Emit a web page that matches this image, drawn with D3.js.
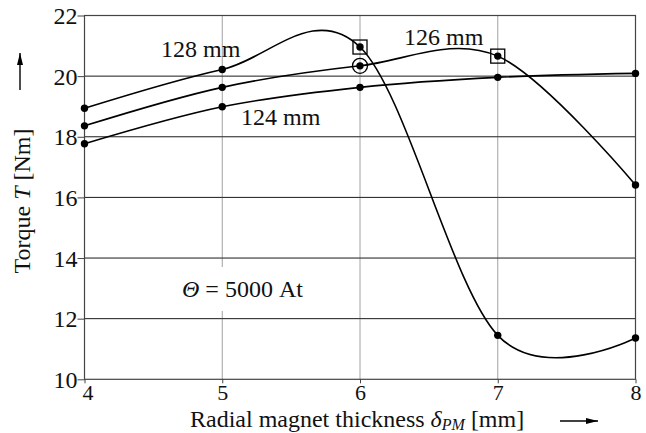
<!DOCTYPE html>
<html>
<head>
<meta charset="utf-8">
<script src="https://cdn.jsdelivr.net/npm/d3@7"></script>
<style>
  body { margin: 0; background: #fff; }
  svg { display: block; }
  svg text { font-family: "Liberation Serif", "Times New Roman", "DejaVu Serif", serif; }
</style>
</head>
<body>
<svg width="646" height="433"></svg>
<script>
// thickness in mm
const thickness = [4, 5, 6, 7, 8]
const torque128 = [18.94, 20.22, 20.96, 11.45, 11.36]
const torque126 = [18.36, 19.63, 20.34, 20.66, 16.41]
const torque124 = [17.77, 18.99, 19.63, 19.96, 20.09]
const yTicks = [10, 12, 14, 16, 18, 20, 22]
const xTicks = [4, 5, 6, 7, 8]

const series = [
  { name: '128 mm', values: torque128 },
  { name: '126 mm', values: torque126 },
  { name: '124 mm', values: torque124 }
]

const svg = d3.select('svg')
const margin = { top: 15.5, right: 10.5, bottom: 53.7, left: 84.5 }
const width = +svg.attr('width') - margin.left - margin.right
const height = +svg.attr('height') - margin.top - margin.bottom
const fs = 24

const x = d3.scaleLinear().domain([4, 8]).range([0, width])
const y = d3.scaleLinear().domain([10, 22]).range([height, 0])

const g = svg.append('g').attr('transform', `translate(${margin.left},${margin.top})`)

// horizontal grid
g.selectAll('.hgrid').data(yTicks.slice(1, -1)).enter().append('line')
  .attr('x1', 0).attr('x2', width)
  .attr('y1', d => y(d)).attr('y2', d => y(d))
  .attr('stroke', '#1a1a1a').attr('stroke-width', 1)

// vertical dotted grid
g.selectAll('.vgrid').data(xTicks.slice(1, -1)).enter().append('line')
  .attr('x1', d => x(d)).attr('x2', d => x(d))
  .attr('y1', 0).attr('y2', height)
  .attr('stroke', '#444').attr('stroke-width', 1)
  .attr('stroke-dasharray', '1,1')

// frame
g.append('rect')
  .attr('width', width).attr('height', height)
  .attr('fill', 'none').attr('stroke', '#444').attr('stroke-width', 1.2)

// axes
const yAxis = g.append('g')
  .call(d3.axisLeft(y).tickValues(yTicks).tickSize(7).tickPadding(0).tickFormat(d3.format('d')))
yAxis.attr('font-family', null)
yAxis.select('.domain').remove()
yAxis.selectAll('line').attr('stroke', '#444')
yAxis.selectAll('text').attr('font-size', fs).attr('fill', '#111').attr('dy', '0.34em')

const xAxis = g.append('g').attr('transform', `translate(0,${height})`)
  .call(d3.axisBottom(x).tickValues(xTicks).tickSize(4).tickPadding(1).tickFormat(d3.format('d')))
xAxis.attr('font-family', null)
xAxis.select('.domain').remove()
xAxis.selectAll('line').attr('stroke', '#444')
xAxis.selectAll('text').attr('font-size', 22).attr('fill', '#111')
xAxis.selectAll('.tick').filter(d => d === 4).select('text').attr('dx', 3)

// Theta label with white background
g.append('rect')
  .attr('x', 95).attr('y', 251.5).attr('width', 128).attr('height', 44)
  .attr('fill', '#fff')
const theta = svg.append('text')
  .attr('x', 182).attr('y', 297)
  .attr('font-size', fs).attr('fill', '#111')
theta.append('tspan').attr('font-style', 'italic').text('Θ')
theta.append('tspan').text(' = 5000 At')

// curves
const line = d3.line()
  .x((d, i) => x(thickness[i]))
  .y(d => y(d))
  .curve(d3.curveCardinal.tension(0))

g.selectAll('.curve').data(series).enter().append('path')
  .attr('d', d => line(d.values))
  .attr('fill', 'none').attr('stroke', '#000').attr('stroke-width', 1.6)

series.forEach(s => {
  g.selectAll(null).data(s.values).enter().append('circle')
    .attr('cx', (d, i) => x(thickness[i]))
    .attr('cy', d => y(d))
    .attr('r', 3.7).attr('fill', '#000')
})

// highlighted points
const boxes = [[6, torque128[2]], [7, torque126[3]]]
g.selectAll('.box').data(boxes).enter().append('rect')
  .attr('x', d => x(d[0]) - 7).attr('y', d => y(d[1]) - 7)
  .attr('width', 14).attr('height', 14)
  .attr('fill', 'none').attr('stroke', '#000').attr('stroke-width', 1.3)
g.append('circle')
  .attr('cx', x(6)).attr('cy', y(torque126[2]))
  .attr('r', 7.5).attr('fill', 'none').attr('stroke', '#000').attr('stroke-width', 1.3)

// series labels
const labels = [
  { text: '128 mm', x: 161, y: 57 },
  { text: '126 mm', x: 404, y: 45 },
  { text: '124 mm', x: 241, y: 125 }
]
svg.selectAll('.lbl').data(labels).enter().append('text')
  .attr('x', d => d.x).attr('y', d => d.y)
  .attr('font-size', fs).attr('fill', '#111')
  .text(d => d.text)

// axis titles
const xt = svg.append('text')
  .attr('x', 190).attr('y', 427)
  .attr('font-size', fs).attr('fill', '#111')
xt.append('tspan').text('Radial magnet thickness ')
xt.append('tspan').attr('font-style', 'italic').text('δ')
xt.append('tspan').attr('font-style', 'italic').attr('font-size', 16).attr('dy', 3).text('PM')
xt.append('tspan').attr('dy', -3).text(' [mm]')

const yt = svg.append('text')
  .attr('transform', 'translate(30,201) rotate(-90)')
  .attr('text-anchor', 'middle')
  .attr('font-size', fs).attr('fill', '#111')
yt.append('tspan').text('Torque ')
yt.append('tspan').attr('font-style', 'italic').text('T')
yt.append('tspan').text(' [Nm]')

// arrows
svg.append('defs').append('marker')
  .attr('id', 'ah').attr('viewBox', '0 0 12 8')
  .attr('refX', 12).attr('refY', 4)
  .attr('markerWidth', 12).attr('markerHeight', 8)
  .attr('markerUnits', 'userSpaceOnUse')
  .attr('orient', 'auto')
  .append('path').attr('d', 'M0,1 L12,4 L0,7 Z').attr('fill', '#000')

svg.append('line')
  .attr('x1', 20).attr('y1', 90).attr('x2', 20).attr('y2', 53)
  .attr('stroke', '#000').attr('stroke-width', 1.4).attr('marker-end', 'url(#ah)')
svg.append('line')
  .attr('x1', 560).attr('y1', 421).attr('x2', 598).attr('y2', 421)
  .attr('stroke', '#000').attr('stroke-width', 1.4).attr('marker-end', 'url(#ah)')
</script>
</body>
</html>
